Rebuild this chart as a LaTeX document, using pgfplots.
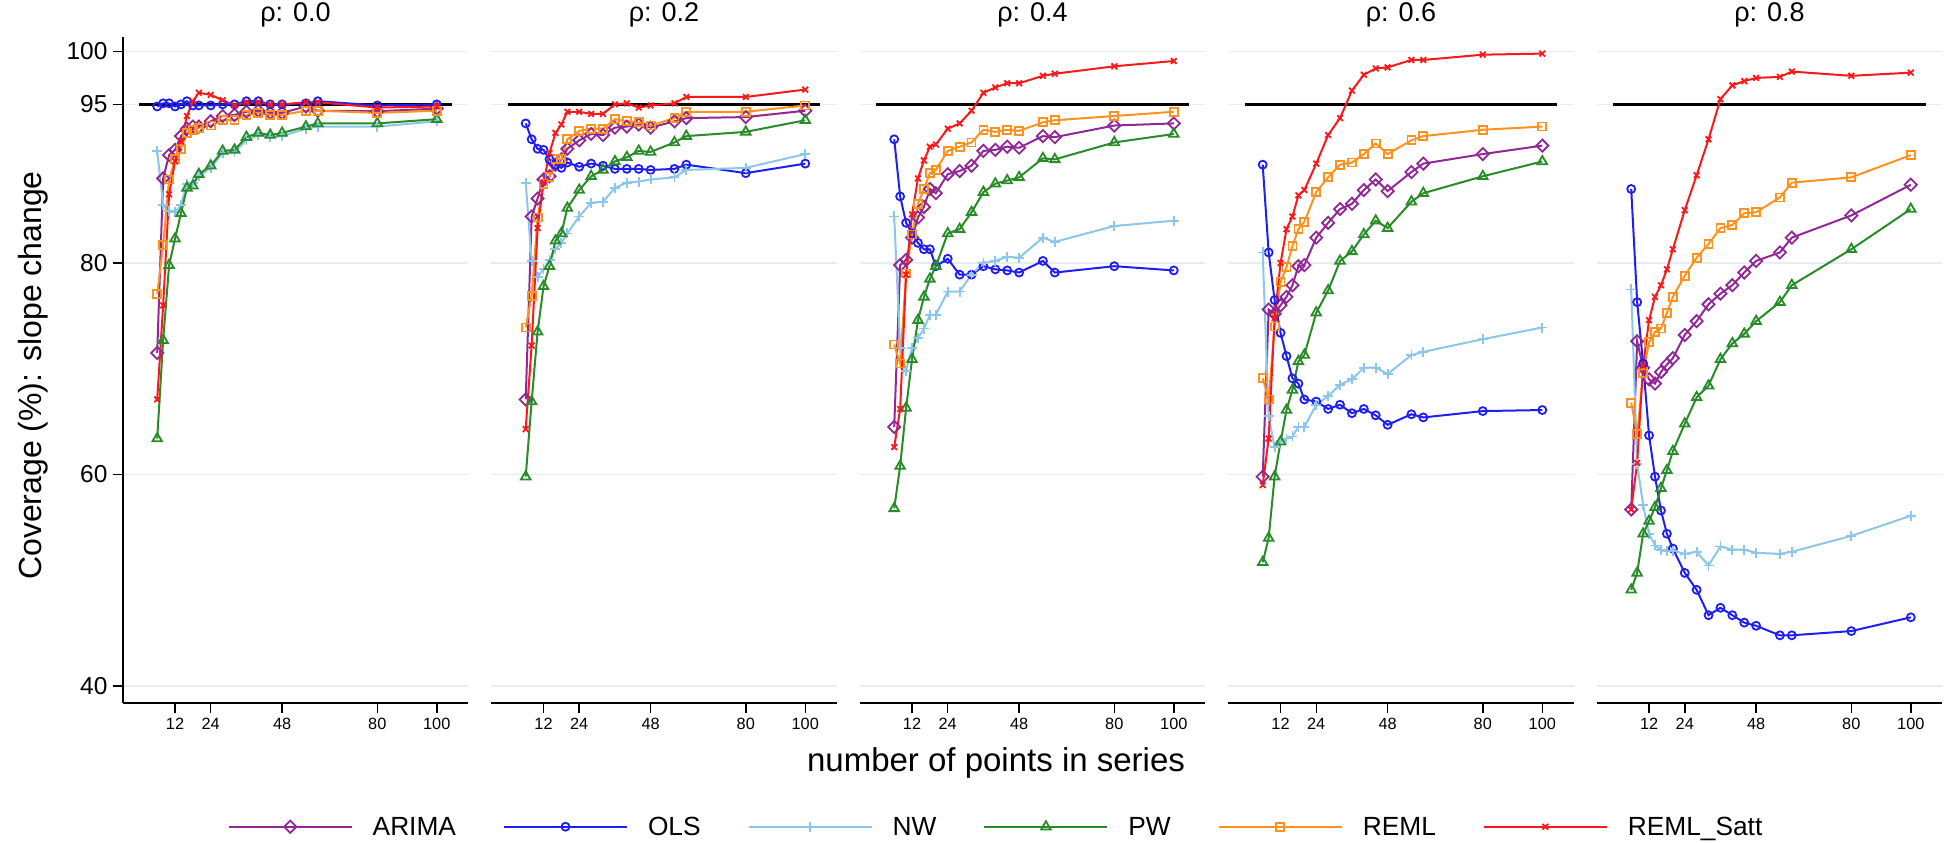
\documentclass[border=0pt]{standalone}
\usepackage{pgfplots}
\pgfplotsset{compat=1.18}
\usepackage{pgfplotstable}
\usepackage{fontspec}
\setmainfont{Liberation Sans}

\definecolor{cPurple}{RGB}{145,40,150}
\definecolor{cBlue}{RGB}{30,30,245}
\definecolor{cLtBlue}{RGB}{140,198,235}
\definecolor{cGreen}{RGB}{40,140,40}
\definecolor{cOrange}{RGB}{255,145,30}
\definecolor{cRed}{RGB}{250,25,25}
\definecolor{cGrid}{RGB}{230,238,242}

\pgfplotstableread{
x ARIMA OLS NW PW REML SATT
6 71.5 94.8 90.6 63.4 77.1 67.1
8 88.0 95.1 85.5 72.7 81.7 76.0
10 90.2 95.1 84.9 79.8 87.9 86.5
12 90.7 94.8 84.8 82.3 89.8 89.6
14 92.0 95.0 85.5 84.7 90.8 91.5
16 92.7 95.3 87.5 87.1 92.3 93.9
18 92.9 94.9 87.6 87.3 92.6 95.3
20 92.9 94.9 88.2 88.4 92.8 96.1
24 93.4 94.9 89.0 89.2 93.0 95.9
28 93.9 95.0 90.4 90.6 93.5 95.4
32 94.0 95.0 90.5 90.7 93.5 94.9
36 94.3 95.3 91.6 91.9 94.0 95.2
40 94.4 95.3 92.1 92.3 94.2 95.2
44 94.2 95.0 91.9 92.1 94.0 95.0
48 94.2 95.0 92.0 92.3 94.0 95.0
56 94.8 95.1 92.7 92.9 94.4 95.2
60 94.4 95.3 92.9 93.2 94.4 95.2
80 94.35 94.9 92.9 93.2 94.2 94.7
100 94.6 95.0 93.4 93.6 94.4 94.8
}\tabA

\pgfplotstableread{
x ARIMA OLS NW PW REML SATT
6 67.1 93.2 87.6 59.8 73.9 64.3
8 84.4 91.7 80.2 66.9 76.9 72.2
10 86.1 90.8 78.7 73.5 84.3 83.3
12 87.9 90.7 79.4 77.8 87.5 87.6
14 88.2 89.8 80.3 79.7 88.1 90.4
16 89.3 89.3 81.3 82.1 89.8 92.3
18 89.8 89.0 81.9 82.8 89.8 93.1
20 90.8 89.5 82.8 85.2 91.7 94.3
24 91.6 89.1 84.4 86.9 92.5 94.3
28 92.2 89.4 85.7 88.2 92.7 94.1
32 92.1 89.2 85.8 88.8 92.7 94.1
36 92.8 88.9 87.1 89.6 93.6 95.0
40 92.9 88.9 87.6 90.0 93.4 95.1
44 93.1 88.9 87.7 90.6 93.3 94.7
48 92.8 88.8 87.9 90.5 93.0 94.9
56 93.4 88.9 88.1 91.4 93.7 95.1
60 93.7 89.3 88.8 92.0 94.3 95.7
80 93.8 88.5 89.0 92.4 94.3 95.7
100 94.4 89.4 90.3 93.5 94.9 96.4
}\tabB

\pgfplotstableread{
x ARIMA OLS NW PW REML SATT
6 64.5 91.7 84.4 56.8 72.3 62.6
8 79.8 86.3 72.0 60.8 70.5 66.2
10 80.3 83.8 69.8 66.3 79.0 78.9
12 82.4 82.8 72.0 70.9 82.7 84.6
14 84.3 81.9 72.9 74.6 85.6 88.0
16 85.3 81.3 73.8 76.8 87.0 89.7
18 87.0 81.3 75.1 78.5 88.5 91.0
20 86.6 79.7 75.1 79.7 88.8 91.2
24 88.4 80.4 77.3 82.8 90.6 92.7
28 88.7 78.9 77.3 83.2 91.0 93.2
32 89.2 78.9 78.9 84.8 91.4 94.4
36 90.6 79.7 80.0 86.7 92.6 96.1
40 90.7 79.4 80.2 87.5 92.4 96.6
44 91.0 79.3 80.6 87.8 92.6 97.0
48 90.9 79.1 80.5 88.1 92.5 97.0
56 92.0 80.2 82.4 89.9 93.3 97.7
60 91.9 79.1 82.0 89.8 93.5 97.9
80 93.0 79.7 83.5 91.4 93.9 98.6
100 93.2 79.3 84.0 92.2 94.3 99.1
}\tabC

\pgfplotstableread{
x ARIMA OLS NW PW REML SATT
6 59.8 89.3 81.0 51.7 69.1 59.0
8 75.6 81.0 65.5 54.0 67.1 63.4
10 75.2 76.5 62.6 59.8 74.0 74.8
12 76.0 73.4 63.2 63.1 78.2 80.0
14 76.8 71.2 63.4 66.1 79.6 83.2
16 77.9 69.1 63.6 68.0 81.6 84.4
18 79.7 68.6 64.5 70.7 83.2 86.4
20 79.8 67.1 64.5 71.3 83.9 86.9
24 82.4 66.9 66.6 75.3 86.7 89.4
28 83.8 66.2 67.4 77.4 88.1 92.1
32 85.1 66.6 68.5 80.2 89.3 93.7
36 85.6 65.8 69.0 81.1 89.5 96.3
40 86.9 66.2 70.1 82.7 90.3 97.8
44 87.9 65.6 70.1 84.0 91.3 98.4
48 86.8 64.7 69.5 83.3 90.3 98.5
56 88.6 65.7 71.3 85.8 91.6 99.2
60 89.4 65.4 71.6 86.6 92.0 99.2
80 90.3 66.0 72.8 88.2 92.6 99.7
100 91.1 66.1 73.9 89.6 92.9 99.8
}\tabD

\pgfplotstableread{
x ARIMA OLS NW PW REML SATT
6 56.7 87.0 77.5 49.1 66.8 56.7
8 72.6 76.3 61.0 50.7 63.8 61.1
10 70.1 70.5 57.1 54.4 69.6 70.3
12 69.0 63.7 54.4 55.6 72.5 74.6
14 68.6 59.8 53.3 56.9 73.5 76.8
16 69.7 56.6 52.9 58.7 73.8 77.9
18 70.4 54.4 52.8 60.4 75.3 79.4
20 71.0 53.0 52.8 62.2 76.8 81.3
24 73.2 50.7 52.5 64.8 78.8 85.0
28 74.5 49.1 52.7 67.3 80.5 88.3
32 76.1 46.7 51.4 68.4 81.8 91.7
36 77.1 47.4 53.2 70.9 83.3 95.5
40 77.9 46.7 52.9 72.4 83.6 96.8
44 79.1 46.0 52.9 73.3 84.7 97.2
48 80.2 45.7 52.6 74.5 84.8 97.5
56 81.0 44.8 52.5 76.3 86.2 97.6
60 82.4 44.8 52.7 77.9 87.6 98.1
80 84.5 45.2 54.2 81.3 88.1 97.7
100 87.4 46.5 56.1 85.1 90.2 98.0
}\tabE

\pgfplotsset{
  panel/.style={
    scale only axis, width=345.6pt, height=666.3pt,
    xmin=-5.6, xmax=110.6, ymin=38.4, ymax=101.4,
    xtick={12,24,48,80,100}, ytick={40,60,80,95,100},
    ymajorgrids, grid style={color=cGrid, line width=1.5pt},
    axis x line*=bottom, axis y line*=left,
    tick align=outside, major tick length=10pt,
    every tick/.style={black, line width=1.5pt},
    axis line style={black, line width=2pt},
    /pgf/number format/assume math mode=true,
    xticklabel style={font=\fontsize{16.3}{18}\selectfont, inner sep=0pt, yshift=-5pt},
    yticklabel style={font=\fontsize{24.5}{27}\selectfont, inner sep=0pt, xshift=-5pt},
    title style={at={(0.5,1)}, anchor=base, yshift=9.4pt, inner sep=0pt, font=\fontsize{27}{29}\selectfont},
    legend image code/.code={\draw[mark repeat=2, mark phase=2, #1] plot coordinates {(0pt,0pt) (61.5pt,0pt) (123pt,0pt)};},
  },
  noy/.style={y axis line style={draw=none}, ytick style={draw=none}, yticklabels={}},
  sARIMA/.style={color=cPurple, line width=2pt, mark=square, mark size=4.3pt, mark options={rotate=45, line width=1.8pt, fill=none}},
  sOLS/.style={color=cBlue, line width=2pt, mark=o, mark size=4pt, mark options={line width=1.8pt}},
  sNW/.style={color=cLtBlue, line width=2pt, mark=+, mark size=5pt, mark options={line width=1.8pt}},
  sPW/.style={color=cGreen, line width=2pt, mark=triangle, mark size=5.5pt, mark options={line width=1.8pt, fill=none}},
  sREML/.style={color=cOrange, line width=2pt, mark=square, mark size=4pt, mark options={line width=1.8pt, fill=none}},
  sSATT/.style={color=cRed, line width=2pt, mark=x, mark size=4pt, mark options={line width=1.8pt}},
}

\newcommand{\series}[1]{%
  \addplot[black, line width=2.5pt, no marks, forget plot] coordinates {(0,95) (105,95)};
  \addplot[sARIMA] table[x=x,y=ARIMA]{#1};
  \addplot[sOLS] table[x=x,y=OLS]{#1};
  \addplot[sNW] table[x=x,y=NW]{#1};
  \addplot[sPW] table[x=x,y=PW]{#1};
  \addplot[sREML] table[x=x,y=REML]{#1};
  \addplot[sSATT] table[x=x,y=SATT]{#1};
}

\begin{document}
\begin{tikzpicture}
\path[use as bounding box] (0pt,0pt) rectangle (1946pt,843pt);

\begin{axis}[panel, at={(122.7pt,806.3pt)}, anchor=north west, title={ρ: 0.0},
  legend style={at={(0.2946,-0.1857)}, anchor=west, draw=none, fill=none,
    font=\fontsize{26.3}{29}\selectfont, legend columns=6,
    /tikz/every odd column/.append style={column sep=20pt},
    /tikz/every even column/.append style={column sep=47pt},
    nodes={inner sep=0pt}}]
\series{\tabA}
\legend{ARIMA,OLS,NW,PW,REML,REML\_Satt}
\end{axis}

\begin{axis}[panel, noy, at={(491.2pt,806.3pt)}, anchor=north west, title={ρ: 0.2}]
\series{\tabB}
\end{axis}

\begin{axis}[panel, noy, at={(859.7pt,806.3pt)}, anchor=north west, title={ρ: 0.4}]
\series{\tabC}
\end{axis}

\begin{axis}[panel, noy, at={(1228.2pt,806.3pt)}, anchor=north west, title={ρ: 0.6}]
\series{\tabD}
\end{axis}

\begin{axis}[panel, noy, at={(1596.7pt,806.3pt)}, anchor=north west, title={ρ: 0.8}]
\series{\tabE}
\end{axis}

\node[rotate=90, anchor=base, font=\fontsize{32}{35}\selectfont] at (41pt,467.5pt) {Coverage (\%): slope change};
\node[anchor=base, font=\fontsize{33}{36}\selectfont] at (996pt,71pt) {number of points in series};
\end{tikzpicture}
\end{document}
